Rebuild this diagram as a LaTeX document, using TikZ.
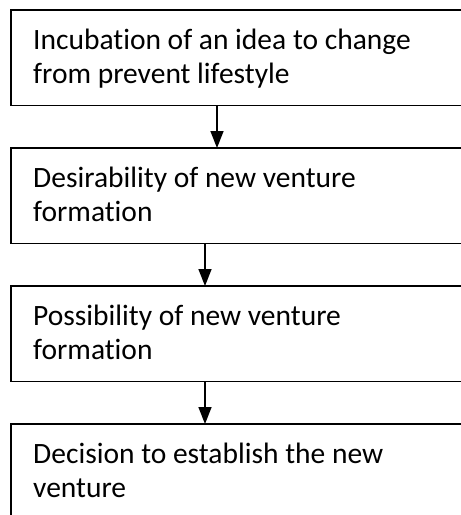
\documentclass[tikz,border=0pt]{standalone}
\usepackage{fontspec}
\setmainfont{Carlito}[Ligatures={NoCommon}]
\usetikzlibrary{arrows.meta}
\tikzset{
  stagebox/.style={draw=none, rectangle, minimum width=450pt, minimum height=95pt, anchor=north west, inner sep=0pt},
  boxline/.style={draw=black, line width=1.6pt},
  stagetext/.style={anchor=base west, inner sep=0pt, align=left, font=\fontsize{29.5}{35}\selectfont},
  flowarrow/.style={line width=1.6pt, -{Triangle[width=13pt,length=17pt]}}
}
\begin{document}
\begin{tikzpicture}[x=1pt,y=-1pt]
\useasboundingbox (0,0) rectangle (461,515);
\node[stagebox] (b1) at (11,10) {};
\node[stagebox] (b2) at (11,148) {};
\node[stagebox] (b3) at (11,286) {};
\node[stagebox] (b4) at (11,424) {};
\foreach \b in {b1,b2,b3}
  \draw[boxline] (\b.north east) -- (\b.north west) -- (\b.south west) -- (\b.south east);
\draw[boxline] (b4.north east) -- (b4.north west) -- (b4.south west |- 0,515);
\node[stagetext] (t1a) at (33,49) {Incubation of an idea to change};
\node[stagetext] (t1b) at (33,83.5) {from prevent lifestyle};
\node[stagetext] (t2a) at (33,187) {Desirability of new venture};
\node[stagetext] (t2b) at (33,221.5) {formation};
\node[stagetext] (t3a) at (33,325) {Possibility of new venture};
\node[stagetext] (t3b) at (33,359.5) {formation};
\node[stagetext] (t4a) at (33,463) {Decision to establish the new};
\node[stagetext] (t4b) at (33,497.5) {venture};
\draw[flowarrow] (b1.south -| 217,0) -- (b2.north -| 217,0);
\draw[flowarrow] (b2.south -| 205,0) -- (b3.north -| 205,0);
\draw[flowarrow] (b3.south -| 205,0) -- (b4.north -| 205,0);
\end{tikzpicture}
\end{document}
